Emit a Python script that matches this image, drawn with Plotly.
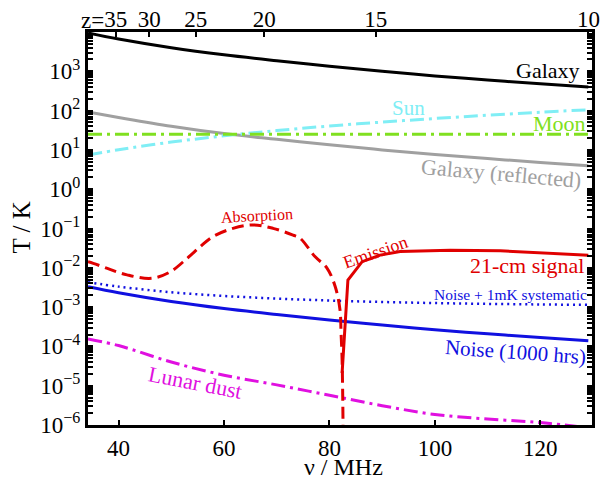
import plotly.graph_objects as go

# ---------------- data ----------------
nu = [34.2, 40, 50, 60, 70, 80, 90, 100, 110, 120, 129.1]
galaxy = [9440, 6620, 3980, 2630, 1860, 1350, 998, 764, 598, 480, 398]
galaxy_reflected = [92, 67, 40, 26, 18.6, 13.5, 10, 7.6, 6.0, 4.8, 3.95]
sun = [7.4, 10.1, 15.8, 22.8, 31, 40.5, 51, 63, 76.5, 91, 105]
moon = [25, 25, 25, 25, 25, 25, 25, 25, 25, 25, 25]
noise = [3.3e-3, 2.32e-3, 1.39e-3, 9.2e-4, 6.5e-4, 4.7e-4, 3.5e-4, 2.67e-4, 2.09e-4, 1.68e-4, 1.4e-4]
noise_sys = [4.3e-3, 3.32e-3, 2.39e-3, 1.92e-3, 1.65e-3, 1.47e-3, 1.35e-3, 1.267e-3, 1.209e-3, 1.168e-3, 1.14e-3]
lunar_dust = [1.55e-4, 1.05e-4, 4.0e-5, 1.85e-5, 1.05e-5, 5.7e-6, 3.1e-6, 1.85e-6, 1.42e-6, 1.15e-6, 8.5e-7]

abs_nu = [34.2, 35.2, 38.0, 41.6, 46.3, 49.8, 53.0, 55.5, 57.9, 61.7, 65.5, 69.3, 73.1, 74.4, 77.3, 79.5, 81.1, 82.0, 82.2, 82.4, 82.6]
abs_T = [0.0142, 0.013, 0.0095, 0.0066, 0.0054, 0.0079, 0.0174, 0.0345, 0.062, 0.101, 0.123, 0.101, 0.068, 0.057, 0.019, 0.010, 0.0033, 8.5e-4, 2.2e-4, 4.5e-5, 5e-7]
em_nu = [82.4, 83.5, 86.2, 89.6, 93.4, 102.9, 112.4, 120, 129.1]
em_T = [2.1e-5, 0.0049, 0.0143, 0.021, 0.026, 0.028, 0.027, 0.024, 0.021]

x_ticks = [40, 60, 80, 100, 120]
y_exps = [-6, -5, -4, -3, -2, -1, 0, 1, 2, 3]
z_ticks = [35, 30, 25, 20, 15, 10]

FONT = "Liberation Serif, Times New Roman, serif"
X_RANGE = [34.2, 129.8]

fig = go.Figure()

def add(x, y, color, width=3, dash="solid", shape="spline"):
    fig.add_trace(go.Scatter(x=x, y=y, mode="lines",
                             line=dict(color=color, width=width, dash=dash, shape=shape),
                             hoverinfo="skip"))

add(nu, galaxy, "black")
add(nu, galaxy_reflected, "#a0a0a0")
add(nu, sun, "#80eef5", dash="14px,5px,3px,5px")
add(nu, moon, "#80e020", dash="14px,5px,3px,5px", shape="linear")
add(nu, noise_sys, "#1010e0", width=2.5, dash="2px,4px")
add(nu, noise, "#1010e0")
add(nu, lunar_dust, "#e010e0", dash="14px,5px,3px,5px")
add(abs_nu, abs_T, "#e00000", dash="12px,6px")
add(em_nu, em_T, "#e00000", shape="linear")

# invisible trace for the top redshift axis
fig.add_trace(go.Scatter(x=[], y=[], xaxis="x2", mode="lines", showlegend=False))

def sup(e):
    s = str(e).replace("-", "\u2212")
    return "10<sup>" + s + "</sup>"

minor_vals = []
for e in range(-6, 4):
    for m in range(2, 10):
        minor_vals.append(m * 10 ** e)

fig.update_layout(
    width=606, height=479,
    margin=dict(l=88, r=14, t=32, b=54, autoexpand=False),
    paper_bgcolor="white", plot_bgcolor="white",
    showlegend=False,
    font=dict(family=FONT, color="black", size=22),
    xaxis=dict(range=X_RANGE, showgrid=False, zeroline=False, automargin=False,
               showline=True, linecolor="black", linewidth=3, mirror=True,
               ticks="inside", ticklen=5, tickwidth=2, tickcolor="black",
               tickmode="array", tickvals=x_ticks,
               ticktext=[str(v) for v in x_ticks],
               tickfont=dict(size=23, family=FONT)),
    xaxis2=dict(range=X_RANGE, overlaying="x", side="top", showgrid=False, zeroline=False,
                automargin=False, ticklabelstandoff=-7,
                showline=True, linecolor="black", linewidth=3,
                ticks="inside", ticklen=5, tickwidth=2, tickcolor="black",
                tickmode="array", tickvals=[1420.4 / (1 + z) for z in z_ticks],
                ticktext=[str(z) for z in z_ticks],
                tickfont=dict(size=23, family=FONT)),
    yaxis=dict(type="log", range=[-6, 4], showgrid=False, zeroline=False, automargin=False,
               showline=True, linecolor="black", linewidth=3, mirror="allticks",
               ticks="inside", ticklen=5, tickwidth=2, tickcolor="black",
               tickmode="array", tickvals=[10 ** e for e in y_exps],
               ticktext=[sup(e) for e in y_exps],
               tickfont=dict(size=23, family=FONT),
               minor=dict(tickmode="array", tickvals=minor_vals, ticks="inside",
                          ticklen=3, tickwidth=1.5, tickcolor="black", showgrid=False)),
)

def ann(text, x, ly, color, size, angle=0):
    fig.add_annotation(x=x, y=ly, text=text, showarrow=False, textangle=angle,
                       font=dict(family=FONT, size=size, color=color),
                       xanchor="center", yanchor="middle")

ann("Galaxy", 121.5, 3.03, "black", 22)
ann("Sun", 94.9, 2.07, "#80eef5", 21)
ann("Moon", 123.7, 1.68, "#80e020", 22)
ann("Galaxy (reflected)", 112.7, 0.41, "#a0a0a0", 22, 5)
ann("Absorption", 66.3, -0.68, "#e00000", 16, -3)
ann("Emission", 88.8, -1.60, "#e00000", 18, -19)
ann("21-cm signal", 117.5, -1.93, "#e00000", 22)
ann("Noise + 1mK systematic", 114.3, -2.69, "#1010e0", 15.5)
ann("Noise (1000 hrs)", 115.2, -4.14, "#1010e0", 21, 4)
ann("Lunar dust", 54.5, -4.91, "#e010e0", 22, 11)

# axis titles and the "z=" prefix of the top axis
fig.add_annotation(xref="paper", yref="paper", x=0.0357, y=1.0305, text="z=",
                   showarrow=False, xanchor="right", yanchor="middle",
                   font=dict(family=FONT, size=23, color="black"))
fig.add_annotation(xref="paper", yref="paper", x=0.506, y=-0.106, text="\u03bd / MHz",
                   showarrow=False, xanchor="center", yanchor="middle",
                   font=dict(family=FONT, size=24, color="black"))
fig.add_annotation(xref="paper", yref="paper", x=-0.131, y=0.5025, text="T / K",
                   showarrow=False, xanchor="center", yanchor="middle", textangle=-90,
                   font=dict(family=FONT, size=25, color="black"))

fig.write_html("out.html", config={"displayModeBar": False},
               post_script="document.body.style.margin='0';document.body.style.overflow='hidden';")
